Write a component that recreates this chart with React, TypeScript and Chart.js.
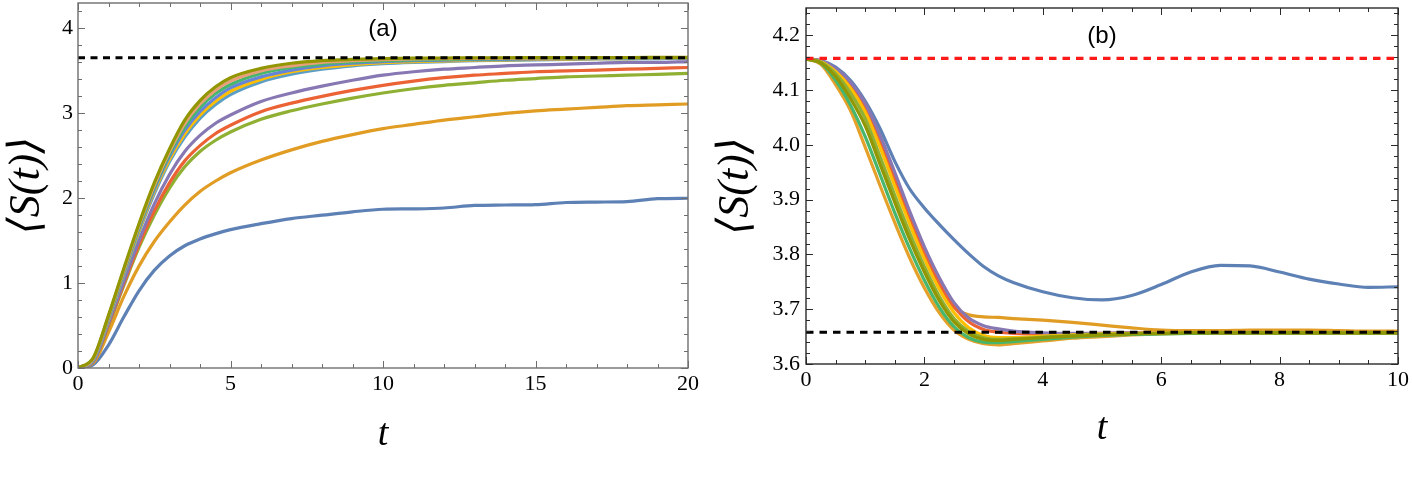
import React, { useEffect, useRef } from "react";
import { Chart, registerables } from "chart.js";

Chart.register(...registerables);

// ---------------- Panel (a) data ----------------
const tA = [0, 0.5, 1, 1.5, 2, 2.5, 3, 3.5, 4, 4.5, 5, 6, 7, 8, 9, 10, 11, 12, 13, 14, 15, 16, 17, 18, 19, 20];
const aBlue = [0, 0.04, 0.27, 0.6, 0.91, 1.15, 1.32, 1.44, 1.52, 1.58, 1.63, 1.7, 1.76, 1.8, 1.84, 1.87, 1.875, 1.885, 1.915, 1.92, 1.925, 1.95, 1.955, 1.96, 1.995, 2.0];
const aOrange = [0, 0.06, 0.42, 0.84, 1.2, 1.49, 1.72, 1.92, 2.08, 2.2, 2.3, 2.45, 2.57, 2.67, 2.75, 2.82, 2.87, 2.92, 2.96, 3.0, 3.03, 3.05, 3.07, 3.09, 3.1, 3.11];
const aGreen = [0, 0.08, 0.5, 0.97, 1.42, 1.8, 2.12, 2.37, 2.55, 2.68, 2.78, 2.93, 3.03, 3.11, 3.18, 3.24, 3.29, 3.33, 3.36, 3.39, 3.41, 3.43, 3.44, 3.45, 3.46, 3.47];
const aRed = [0, 0.08, 0.51, 0.99, 1.45, 1.85, 2.18, 2.44, 2.62, 2.76, 2.86, 3.02, 3.12, 3.2, 3.27, 3.33, 3.38, 3.42, 3.45, 3.47, 3.49, 3.5, 3.51, 3.52, 3.53, 3.54];
const aPurple = [0, 0.08, 0.53, 1.02, 1.5, 1.93, 2.28, 2.55, 2.74, 2.88, 2.98, 3.14, 3.24, 3.32, 3.39, 3.45, 3.49, 3.52, 3.54, 3.56, 3.57, 3.58, 3.59, 3.6, 3.6, 3.61];
const aLightBlue = [0, 0.09, 0.56, 1.09, 1.60, 2.05, 2.43, 2.72, 2.94, 3.10, 3.22, 3.37, 3.46, 3.52, 3.56, 3.585, 3.60, 3.61, 3.62, 3.625, 3.63, 3.635, 3.64, 3.642, 3.645, 3.647];
const aYellow = [0, 0.1, 0.57, 1.11, 1.62, 2.08, 2.46, 2.76, 2.98, 3.14, 3.26, 3.40, 3.49, 3.54, 3.575, 3.597, 3.61, 3.618, 3.627, 3.631, 3.635, 3.639, 3.644, 3.645, 3.648, 3.65];
const aBlue2 = [0, 0.1, 0.58, 1.12, 1.64, 2.10, 2.49, 2.80, 3.02, 3.18, 3.30, 3.43, 3.51, 3.56, 3.59, 3.609, 3.62, 3.627, 3.634, 3.637, 3.64, 3.644, 3.647, 3.648, 3.651, 3.652];
const aTeal = [0, 0.11, 0.6, 1.14, 1.66, 2.13, 2.52, 2.84, 3.07, 3.23, 3.34, 3.47, 3.54, 3.58, 3.605, 3.621, 3.63, 3.635, 3.64, 3.643, 3.646, 3.648, 3.651, 3.652, 3.653, 3.655];
const aMagenta = [0, 0.11, 0.61, 1.15, 1.68, 2.15, 2.55, 2.88, 3.11, 3.27, 3.38, 3.50, 3.56, 3.60, 3.62, 3.633, 3.64, 3.644, 3.647, 3.649, 3.651, 3.653, 3.654, 3.655, 3.656, 3.657];
const aOlive = [0, 0.12, 0.62, 1.17, 1.70, 2.18, 2.58, 2.92, 3.15, 3.31, 3.42, 3.53, 3.59, 3.62, 3.635, 3.645, 3.65, 3.652, 3.654, 3.655, 3.656, 3.657, 3.658, 3.658, 3.659, 3.66];
const aRef = 3.655;
const xTicksA = [0, 5, 10, 15, 20];
const yTicksA = [0, 1, 2, 3, 4];

// ---------------- Panel (b) data ----------------
const tB = [0, 0.25, 0.5, 0.75, 1, 1.25, 1.5, 1.75, 2, 2.25, 2.5, 2.75, 3, 3.25, 3.5, 4, 4.5, 5, 5.5, 6, 6.5, 7, 7.5, 8, 8.5, 9, 9.5, 10];
const bBlue = [4.157, 4.154, 4.142, 4.118, 4.08, 4.03, 3.97, 3.92, 3.885, 3.855, 3.827, 3.801, 3.778, 3.761, 3.749, 3.732, 3.721, 3.717, 3.725, 3.745, 3.768, 3.78, 3.779, 3.768, 3.755, 3.746, 3.74, 3.741];
const bOrange = [4.157, 4.152, 4.135, 4.106, 4.064, 4.0, 3.93, 3.86, 3.797, 3.742, 3.703, 3.69, 3.686, 3.685, 3.683, 3.68, 3.676, 3.671, 3.666, 3.662, 3.661, 3.661, 3.662, 3.662, 3.662, 3.661, 3.66, 3.66];
const bRed = [4.157, 4.153, 4.137, 4.11, 4.068, 4.007, 3.937, 3.867, 3.803, 3.748, 3.705, 3.677, 3.663, 3.658, 3.656, 3.655, 3.655, 3.656, 3.657, 3.657, 3.657, 3.657, 3.657, 3.657, 3.657, 3.657, 3.657, 3.657];
const bPurple = [4.157, 4.154, 4.14, 4.115, 4.076, 4.018, 3.95, 3.879, 3.814, 3.758, 3.712, 3.684, 3.67, 3.664, 3.66, 3.657, 3.656, 3.656, 3.657, 3.657, 3.657, 3.657, 3.657, 3.657, 3.657, 3.657, 3.657, 3.657];
const bYellow = [4.157, 4.152, 4.134, 4.104, 4.06, 3.996, 3.925, 3.856, 3.792, 3.737, 3.694, 3.666, 3.652, 3.648, 3.648, 3.651, 3.653, 3.655, 3.656, 3.657, 3.657, 3.657, 3.657, 3.657, 3.657, 3.657, 3.657, 3.657];
const bGreen = [4.157, 4.151, 4.13, 4.095, 4.048, 3.979, 3.908, 3.84, 3.778, 3.724, 3.683, 3.659, 3.648, 3.645, 3.646, 3.649, 3.652, 3.654, 3.655, 3.656, 3.657, 3.657, 3.657, 3.657, 3.657, 3.657, 3.657, 3.657];
const bOrange2 = [4.157, 4.147, 4.11, 4.063, 3.996, 3.926, 3.858, 3.794, 3.739, 3.694, 3.662, 3.645, 3.637, 3.635, 3.637, 3.642, 3.647, 3.65, 3.653, 3.655, 3.656, 3.657, 3.657, 3.657, 3.657, 3.657, 3.657, 3.657];
const bTeal = [4.157, 4.149, 4.118, 4.073, 4.015, 3.946, 3.876, 3.811, 3.753, 3.704, 3.668, 3.648, 3.64, 3.639, 3.641, 3.645, 3.649, 3.652, 3.654, 3.655, 3.656, 3.657, 3.657, 3.657, 3.657, 3.657, 3.657, 3.657];
const bOlive = [4.157, 4.15, 4.125, 4.085, 4.035, 3.965, 3.895, 3.828, 3.768, 3.716, 3.677, 3.655, 3.645, 3.643, 3.645, 3.648, 3.651, 3.653, 3.655, 3.656, 3.657, 3.657, 3.657, 3.657, 3.657, 3.657, 3.657, 3.657];
const bRefHigh = 4.158;
const bRefLow = 3.658;
const xTicksB = [0, 2, 4, 6, 8, 10];
const yTicksB = [3.6, 3.7, 3.8, 3.9, 4.0, 4.1, 4.2];

// ---------------- helpers ----------------
const SERIF = '"Liberation Serif", "DejaVu Serif", serif';
const SANS = '"Liberation Sans", "DejaVu Sans", sans-serif';

function line(ts: number[], vs: number[], color: string, width = 3.2) {
  return {
    data: ts.map((t, i) => ({ x: t, y: vs[i] })),
    borderColor: color,
    backgroundColor: color,
    borderWidth: width,
    pointRadius: 0,
    fill: false,
    cubicInterpolationMode: "monotone" as const,
    borderCapStyle: "round" as const,
    borderJoinStyle: "round" as const,
  };
}

function hline(y: number, x0: number, x1: number, color: string, dash: number[]) {
  return {
    data: [{ x: x0, y }, { x: x1, y }],
    borderColor: color,
    backgroundColor: color,
    borderWidth: 3.2,
    borderDash: dash,
    pointRadius: 0,
    fill: false,
  };
}

const framePlugin = {
  id: "frame",
  afterDraw(chart: any, _args: any, o: any) {
    const { ctx, chartArea } = chart;
    const { left, right, top, bottom } = chartArea;
    const xs = chart.scales.x;
    const ys = chart.scales.y;
    ctx.save();
    ctx.strokeStyle = o.color;
    ctx.lineWidth = 1;
    ctx.beginPath();
    const nx = Math.floor((xs.max - xs.min) / o.xMinor + 1e-6);
    for (let k = 0; k <= nx; k++) {
      const v = xs.min + k * o.xMinor;
      const r = v / o.xMajor;
      const major = Math.abs(r - Math.round(r)) < 1e-6;
      const len = major ? o.majorLen : o.minorLen;
      const px = Math.round(xs.getPixelForValue(v)) + 0.5;
      ctx.moveTo(px, bottom);
      ctx.lineTo(px, bottom - len);
      ctx.moveTo(px, top);
      ctx.lineTo(px, top + len);
    }
    const ny = Math.floor((ys.max - ys.min) / o.yMinor + 1e-6);
    for (let k = 0; k <= ny; k++) {
      const v = ys.min + k * o.yMinor;
      const r = (v - o.yMajorBase) / o.yMajor;
      const major = Math.abs(r - Math.round(r)) < 1e-6;
      const len = major ? o.majorLen : o.minorLen;
      const py = Math.round(ys.getPixelForValue(v)) + 0.5;
      ctx.moveTo(left, py);
      ctx.lineTo(left + len, py);
      ctx.moveTo(right, py);
      ctx.lineTo(right - len, py);
    }
    ctx.stroke();
    ctx.lineWidth = o.frameWidth;
    ctx.strokeRect(left, top, right - left, bottom - top);
    ctx.fillStyle = "#000";
    ctx.font = `24px ${SANS}`;
    ctx.textAlign = "center";
    ctx.textBaseline = "middle";
    ctx.fillText(o.label, (left + right) / 2, top + o.labelDy);
    ctx.restore();
  },
};

function makeConfig(p: any) {
  const n = p.datasets.length;
  const datasets = p.datasets.map((d: any, i: number) => ({ ...d, order: n - i }));
  return {
    type: "line",
    data: { datasets },
    options: {
      animation: false,
      responsive: false,
      maintainAspectRatio: false,
      events: [],
      layout: { autoPadding: false, padding: { left: 0, right: p.padRight, top: p.padTop, bottom: 0 } },
      plugins: {
        legend: { display: false },
        tooltip: { enabled: false },
        frame: p.frame,
      },
      scales: {
        x: {
          type: "linear",
          min: p.xMin,
          max: p.xMax,
          grid: { display: false, drawTicks: false },
          border: { display: false },
          afterBuildTicks: (s: any) => {
            s.ticks = p.xTicks.map((v: number) => ({ value: v }));
          },
          afterFit: (s: any) => {
            s.height = p.xAxisH;
            s.paddingLeft = 0;
            s.paddingRight = 0;
            s.paddingTop = 0;
            s.paddingBottom = 0;
          },
          ticks: {
            autoSkip: false,
            maxRotation: 0,
            minRotation: 0,
            padding: p.xTickPad,
            color: "#000",
            font: { family: SERIF, size: 22 },
            callback: (v: any) => p.xFmt(Number(v)),
          },
          title: {
            display: true,
            text: "t",
            color: "#000",
            font: { family: SERIF, size: 38, style: "italic" },
            padding: { top: 0, bottom: p.xTitlePad },
          },
        },
        y: {
          type: "linear",
          min: p.yMin,
          max: p.yMax,
          grid: { display: false, drawTicks: false },
          border: { display: false },
          afterBuildTicks: (s: any) => {
            s.ticks = p.yTicks.map((v: number) => ({ value: v }));
          },
          afterFit: (s: any) => {
            s.width = p.yAxisW;
            s.paddingLeft = 0;
            s.paddingRight = 0;
            s.paddingTop = 0;
            s.paddingBottom = 0;
          },
          ticks: {
            autoSkip: false,
            padding: p.yTickPad,
            color: "#000",
            font: { family: SERIF, size: 22 },
            callback: (v: any) => p.yFmt(Number(v)),
          },
          title: {
            display: true,
            text: "\u27E8S(t)\u27E9",
            color: "#000",
            font: { family: SERIF, size: 44, style: "italic", lineHeight: 1 },
            padding: { top: p.yTitlePad, bottom: 0 },
          },
        },
      },
    },
    plugins: [framePlugin],
  };
}

export default function App() {
  const refA = useRef<HTMLCanvasElement | null>(null);
  const refB = useRef<HTMLCanvasElement | null>(null);

  useEffect(() => {
    const dsA = [
      line(tA, aBlue, "#5E81B5"),
      line(tA, aOrange, "#E19C24"),
      line(tA, aGreen, "#8FB032"),
      line(tA, aRed, "#EB6235"),
      line(tA, aPurple, "#8778B3"),
      line(tA, aLightBlue, "#5D9EC7"),
      line(tA, aYellow, "#FFBF00"),
      line(tA, aBlue2, "#6685D9"),
      line(tA, aTeal, "#47B66D"),
      line(tA, aMagenta, "#E8A07A"),
      line(tA, aOlive, "#929600"),
      hline(aRef, 0, 20, "#000", [7, 5.5]),
    ];
    const dsB = [
      line(tB, bBlue, "#5E81B5"),
      line(tB, bOrange, "#E19C24"),
      line(tB, bRed, "#EB6235"),
      line(tB, bPurple, "#8778B3"),
      line(tB, bYellow, "#FFBF00"),
      line(tB, bGreen, "#8FB032"),
      line(tB, bOrange2, "#E5A02A"),
      line(tB, bTeal, "#47B66D"),
      line(tB, bOlive, "#929600"),
      hline(bRefHigh, 0, 10, "#FF1A1A", [7.5, 6]),
      hline(bRefLow, 0, 10, "#000", [7.5, 6]),
    ];

    const chartA = new Chart(
      refA.current as HTMLCanvasElement,
      makeConfig({
        datasets: dsA,
        xMin: 0, xMax: 20, yMin: 0, yMax: 4.3,
        xTicks: xTicksA, yTicks: yTicksA,
        xFmt: (v: number) => String(v),
        yFmt: (v: number) => String(v),
        padRight: 12, padTop: 3,
        xAxisH: 116, yAxisW: 78,
        xTickPad: 3, yTickPad: 5,
        xTitlePad: 26, yTitlePad: 5,
        frame: {
          color: "#6e6e6e", frameWidth: 1.4,
          xMinor: 1, xMajor: 5, yMinor: 0.2, yMajor: 1, yMajorBase: 0,
          majorLen: 7, minorLen: 4, label: "(a)", labelDy: 26,
        },
      }) as any
    );
    const chartB = new Chart(
      refB.current as HTMLCanvasElement,
      makeConfig({
        datasets: dsB,
        xMin: 0, xMax: 10, yMin: 3.6, yMax: 4.25,
        xTicks: xTicksB, yTicks: yTicksB,
        xFmt: (v: number) => String(Math.round(v)),
        yFmt: (v: number) => v.toFixed(1),
        padRight: 14, padTop: 8,
        xAxisH: 120, yAxisW: 106,
        xTickPad: 3, yTickPad: 6,
        xTitlePad: 32, yTitlePad: 14,
        frame: {
          color: "#2a2a2a", frameWidth: 1.4,
          xMinor: 0.5, xMajor: 2, yMinor: 0.02, yMajor: 0.1, yMajorBase: 3.6,
          majorLen: 7, minorLen: 4, label: "(b)", labelDy: 28,
        },
      }) as any
    );
    return () => {
      chartA.destroy();
      chartB.destroy();
    };
  }, []);

  return (
    <div style={{ position: "absolute", left: 0, top: 0, width: 1412, height: 484, background: "#fff" }}>
      <canvas ref={refA} width={700} height={484} style={{ position: "absolute", left: 0, top: 0, width: 700, height: 484 }} />
      <canvas ref={refB} width={712} height={484} style={{ position: "absolute", left: 700, top: 0, width: 712, height: 484 }} />
    </div>
  );
}
